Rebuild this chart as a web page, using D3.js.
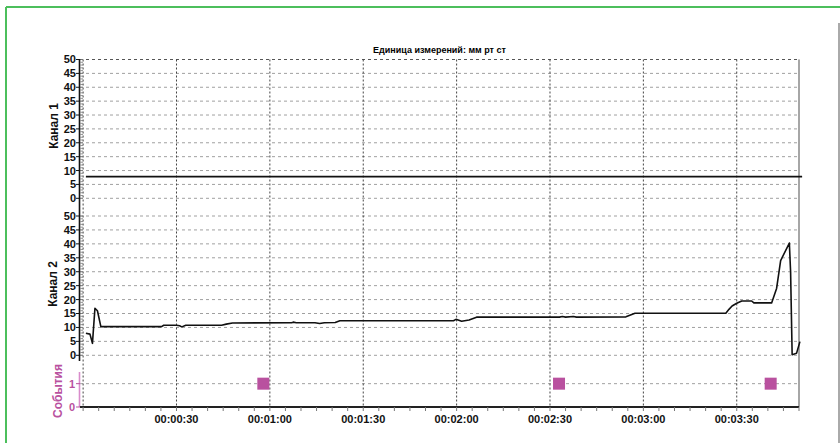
<!DOCTYPE html>
<meta charset="utf-8">
<style>
body { margin: 0; background: #fff; }
svg { display: block; font-family: "Liberation Sans", Arial, sans-serif; }
.tick-label { font-size: 11px; font-weight: bold; fill: #111; }
.hgrid { stroke: #a0a0a0; stroke-width: 1; stroke-dasharray: 3,3; }
.vgrid { stroke: #444; stroke-width: 1; stroke-dasharray: 2,2; }
.trace { fill: none; stroke: #111; stroke-width: 1.6px; stroke-linejoin: round; }
</style>
<svg width="840" height="443"></svg>
<script src="https://cdn.jsdelivr.net/npm/d3@7"></script>
<script>

// --- data (time in seconds, pressure in мм рт ст) ---
var channel1 = [[0.9, 7.8], [231, 7.8]];

var channel2 = [
  [0.9, 7.9], [2.2, 7.6], [3.0, 4.3], [3.8, 16.9], [4.6, 16.0], [5.7, 10.3],
  [25.2, 10.3], [25.9, 10.8], [30, 10.8], [31, 10.6], [31.7, 10.2], [33, 10.8],
  [44.5, 10.8], [46, 11.2], [48, 11.6], [67, 11.7], [67.5, 11.9], [68.5, 11.7],
  [74.5, 11.7], [76, 11.4], [77.5, 11.7], [81, 11.8], [82.5, 12.4], [119, 12.4],
  [119.8, 12.9], [121.6, 12.2], [124, 12.7], [126.4, 13.7], [153, 13.7], [154, 13.9],
  [155, 13.7], [157.5, 13.9], [158.5, 13.7], [174.4, 13.8], [177.3, 15.1], [206.5, 15.1],
  [207.5, 16.5], [208.5, 17.7], [210, 18.7], [211.6, 19.5], [214.8, 19.5], [215.5, 18.8],
  [221.2, 18.8], [222.8, 24], [224.1, 34], [226.9, 40.3], [227.3, 30], [227.8, 0.2],
  [229.2, 0.7], [230.3, 4.9]
];

var events = [57.9, 152.9, 220.9];

var timeTicks = [30, 60, 90, 120, 150, 180, 210];
var gridTimes = [0, 30, 60, 90, 120, 150, 180, 210];
var valueTicks = [0, 5, 10, 15, 20, 25, 30, 35, 40, 45, 50];

var title = "Единица измерений: мм рт ст";
var eventColor = "#b9519f";

var svg = d3.select("svg");

// frame
svg.append("line").attr("x1", 6).attr("x2", 840).attr("y1", 7).attr("y2", 7)
    .attr("stroke", "#4cbf5c").attr("stroke-width", 2);
svg.append("line").attr("x1", 6).attr("x2", 6).attr("y1", 7).attr("y2", 443)
    .attr("stroke", "#4cbf5c").attr("stroke-width", 2);
svg.append("line").attr("x1", 839).attr("x2", 839).attr("y1", 23).attr("y2", 443)
    .attr("stroke", "#aaa").attr("stroke-width", 2);

var plotL = 80, plotR = 799, plotT = 59.5, plotB = 407;

var x = d3.scaleLinear().domain([-1, 230]).range([plotL, plotR]);
var y1 = d3.scaleLinear().domain([0, 50]).range([198.3, plotT]);
var y2 = d3.scaleLinear().domain([0, 50]).range([355.3, 216]);
var ye = d3.scaleLinear().domain([0, 1.5]).range([plotB, 372]);

function fmt(s) {
  var m = Math.floor(s / 60), r = s % 60;
  return "00:" + d3.format("02")(m) + ":" + d3.format("02")(r);
}

// horizontal grid
[y1, y2].forEach(function(sc) {
  svg.append("g").selectAll("line")
    .data(valueTicks)
    .enter().append("line")
      .attr("class", "hgrid")
      .attr("x1", plotL).attr("x2", plotR)
      .attr("y1", function(d) { return sc(d); }).attr("y2", function(d) { return sc(d); })
      .style("stroke", function(d) { return (sc === y1 && d === 50) ? "#555" : null; });
});
svg.append("line").attr("class", "hgrid")
  .attr("x1", plotL).attr("x2", plotR).attr("y1", ye(1)).attr("y2", ye(1));

// vertical grid
svg.append("g").selectAll("line")
  .data(gridTimes)
  .enter().append("line")
    .attr("class", "vgrid")
    .attr("x1", function(d) { return x(d); }).attr("x2", function(d) { return x(d); })
    .attr("y1", plotT).attr("y2", plotB);

// right border
svg.append("line").attr("x1", plotR).attr("x2", plotR).attr("y1", plotT).attr("y2", plotB)
    .attr("stroke", "#888").attr("stroke-width", 1.5);

// y axes for the channels
function valueAxis(sc) {
  var ax = svg.append("g");
  ax.selectAll(".minor").data(d3.range(0, 51))
    .enter().append("line")
      .attr("x1", plotL + 0.5).attr("x2", plotL + 3)
      .attr("y1", function(d) { return sc(d); }).attr("y2", function(d) { return sc(d); })
      .attr("stroke", "#777").attr("stroke-width", 0.8);
  ax.selectAll(".major").data(valueTicks)
    .enter().append("line")
      .attr("x1", plotL - 4).attr("x2", plotL)
      .attr("y1", function(d) { return sc(d); }).attr("y2", function(d) { return sc(d); })
      .attr("stroke", "#111");
  ax.selectAll("text").data(valueTicks)
    .enter().append("text")
      .attr("class", "tick-label")
      .attr("x", plotL - 4).attr("y", function(d) { return sc(d); })
      .attr("dy", "0.36em")
      .attr("text-anchor", "end")
      .text(function(d) { return d; });
}
valueAxis(y1);
valueAxis(y2);

svg.append("line").attr("x1", plotL - 0.5).attr("x2", plotL - 0.5).attr("y1", plotT).attr("y2", 361)
    .attr("stroke", "#111").attr("stroke-width", 1.6);

// events axis
svg.append("line").attr("x1", plotL - 0.5).attr("x2", plotL - 0.5).attr("y1", 372).attr("y2", plotB)
    .attr("stroke", "#d98ccb").attr("stroke-width", 1.6);
svg.append("g").selectAll("text").data([0, 1])
  .enter().append("text")
    .attr("class", "tick-label")
    .style("fill", eventColor)
    .attr("x", plotL - 5).attr("y", function(d) { return ye(d); })
    .attr("dy", "0.36em").attr("text-anchor", "end")
    .text(function(d) { return d; });
svg.append("g").selectAll("line").data([0, 1])
  .enter().append("line")
    .attr("x1", plotL - 4).attr("x2", plotL)
    .attr("y1", function(d) { return ye(d); }).attr("y2", function(d) { return ye(d); })
    .attr("stroke", eventColor);

// time axis
svg.append("line").attr("x1", plotL).attr("x2", plotR).attr("y1", plotB).attr("y2", plotB)
    .attr("stroke", "#222").attr("stroke-width", 2);
svg.append("g").selectAll("line").data(d3.range(0, 231, 5))
  .enter().append("line")
    .attr("x1", function(d) { return x(d); }).attr("x2", function(d) { return x(d); })
    .attr("y1", plotB).attr("y2", plotB + 4)
    .attr("stroke", "#777");
svg.append("g").selectAll("text").data(timeTicks)
  .enter().append("text")
    .attr("class", "tick-label")
    .attr("x", function(d) { return x(d); }).attr("y", 423)
    .attr("text-anchor", "middle")
    .text(fmt);

// titles
svg.append("text").attr("x", (plotL + plotR) / 2).attr("y", 53)
  .attr("text-anchor", "middle").style("font-size", "9px").style("font-weight", "bold")
  .text(title);

function sideLabel(txt, cy, bx, color, bold) {
  svg.append("text")
    .attr("transform", "translate(" + bx + "," + cy + ") rotate(-90)")
    .attr("text-anchor", "middle")
    .style("font-size", "12px").style("font-weight", bold ? "bold" : "normal")
    .style("fill", color)
    .text(txt);
}
sideLabel("Канал 1", 126, 58, "#111", true);
sideLabel("Канал 2", 284, 57, "#111", true);
sideLabel("События", 391, 62, eventColor, true);

// traces
var line1 = d3.line().x(function(d) { return x(d[0]); }).y(function(d) { return y1(d[1]); });
var line2 = d3.line().x(function(d) { return x(d[0]); }).y(function(d) { return y2(d[1]); });

svg.append("path").datum(channel1).attr("class", "trace").attr("d", line1);
svg.append("path").datum(channel2).attr("class", "trace").attr("d", line2);

// events
svg.append("g").selectAll("rect").data(events)
  .enter().append("rect")
    .attr("x", function(d) { return x(d) - 6; })
    .attr("y", ye(1) - 6)
    .attr("width", 12).attr("height", 12)
    .attr("fill", eventColor);

</script>
